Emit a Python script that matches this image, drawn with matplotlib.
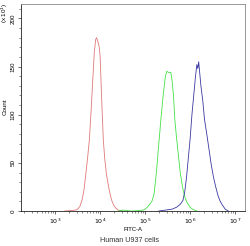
import matplotlib
matplotlib.use("Agg")
import matplotlib.pyplot as plt
from matplotlib.ticker import FixedLocator, NullFormatter

plt.rcParams['font.family'] = ['Liberation Sans', 'DejaVu Sans']

# log10(FITC-A) positions and counts (x10^1)
red_logx = [3.2, 3.35, 3.45, 3.5, 3.55, 3.6, 3.64, 3.68, 3.72, 3.76, 3.8, 3.84, 3.87, 3.9, 3.92,
            3.95, 3.98, 4.0, 4.03, 4.07, 4.1, 4.14, 4.2, 4.25, 4.3, 4.35, 4.4, 4.5]
red_cnt = [0, 0.5, 1, 2, 5, 12, 22, 38, 55, 74, 105, 140, 165, 178, 180,
           176, 170, 160, 120, 74, 55, 38, 22, 12, 6, 3, 1, 0]

green_logx = [4.4, 4.5, 4.7, 4.85, 4.95, 5.0, 5.05, 5.1, 5.15, 5.2, 5.25, 5.3, 5.35, 5.4, 5.45, 5.48,
              5.52, 5.57, 5.6, 5.63, 5.66, 5.7, 5.73, 5.78, 5.83, 5.88, 5.93, 6.0, 6.05, 6.15]
green_cnt = [0, 1, 0, 0.5, 1, 2, 4, 7, 10, 18, 40, 68, 95, 120, 140, 145,
             144, 144, 135, 120, 95, 75, 62, 40, 25, 15, 9, 4, 2, 0]

blue_logx = [5.3, 5.45, 5.6, 5.7, 5.78, 5.84, 5.88, 5.92, 5.96, 6.0, 6.04, 6.08, 6.12, 6.15, 6.17,
             6.19, 6.21, 6.24, 6.28, 6.32, 6.37, 6.42, 6.47, 6.52, 6.57, 6.62, 6.67, 6.72, 6.78, 6.85]
blue_cnt = [0, 1, 2, 4, 7, 11, 20, 35, 55, 75, 100, 120, 140, 152, 148,
            155, 145, 130, 115, 95, 80, 64, 48, 35, 25, 16, 10, 6, 2, 0]

xticks_exp = [3, 4, 5, 6, 7]
yticks = [0, 50, 100, 150, 200]

fig = plt.figure(figsize=(2.5, 2.46), dpi=100)
ax = fig.add_axes([0.084, 0.142, 0.896, 0.842])

for lx, c, col in [(red_logx, red_cnt, '#e07878'),
                   (green_logx, green_cnt, '#44e044'),
                   (blue_logx, blue_cnt, '#3838a0')]:
    ax.plot([10 ** v for v in lx], c, color=col, lw=0.6)

ax.set_xscale('log')
ax.set_xlim(10 ** 2.24, 10 ** 7.22)
ax.set_ylim(0, 215)
ax.set_xticks([10 ** e for e in xticks_exp])
ax.set_xticklabels([r'$10^{%d}$' % e for e in xticks_exp])
ax.xaxis.set_minor_formatter(NullFormatter())
ax.set_yticks(yticks)
ax.set_yticklabels([str(v) for v in yticks], rotation=90, va='center')
ax.yaxis.set_minor_locator(FixedLocator(list(range(0, 216, 10))))
ax.tick_params(axis='both', which='major', labelsize=4.5, length=2.5, width=0.5, pad=1.5, color='#333333')
ax.tick_params(axis='both', which='minor', length=1.5, width=0.4, color='#333333')

for s in ['top', 'right']:
    ax.spines[s].set_color('#888888')
    ax.spines[s].set_linewidth(0.6)
for s in ['left', 'bottom']:
    ax.spines[s].set_color('#222222')
    ax.spines[s].set_linewidth(0.6)

ax.set_xlabel('FITC-A', fontsize=4.2, labelpad=0.5)
fig.text(0.02, 0.565, 'Count', rotation=90, fontsize=4.5, ha='center', va='center')
fig.text(0.02, 0.95, r'(x 10$^1$)', rotation=90, fontsize=4.5, ha='center', va='center')
fig.text(0.52, 0.024, 'Human U937 cells', fontsize=5.2, ha='center', va='center', color='#333333')

fig.savefig('out.png', dpi=100)
